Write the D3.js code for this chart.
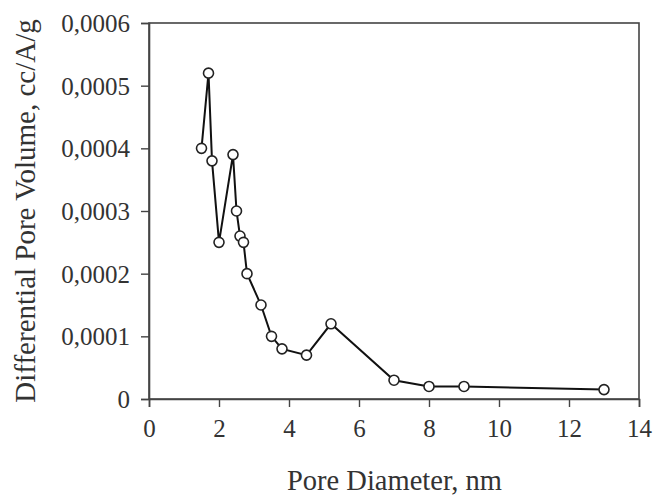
<!DOCTYPE html>
<html lang="en">
<head>
    <meta charset="UTF-8">
    <title>Pore size distribution</title>
    <style>
        html, body { margin: 0; padding: 0; background: #fff; }
        text { font-family: "Liberation Serif", "Times New Roman", serif; fill: #333; }
    </style>
</head>
<body>
<div id="chart"></div>
<script src="https://cdn.jsdelivr.net/npm/d3@7/dist/d3.min.js"></script>
<script>
    // data
    const poreDiameter = [1.5, 1.7, 1.8, 2.0, 2.4, 2.5, 2.6, 2.7, 2.8, 3.2, 3.5, 3.8, 4.5, 5.2, 7.0, 8.0, 9.0, 13.0];
    const poreVolume = [0.0004, 0.00052, 0.00038, 0.00025, 0.00039, 0.0003, 0.00026, 0.00025, 0.0002,
        0.00015, 0.0001, 0.00008, 0.00007, 0.00012, 0.00003, 0.00002, 0.00002, 0.000015];
    const xTicks = [0, 2, 4, 6, 8, 10, 12, 14];
    const yTicks = [0, 0.0001, 0.0002, 0.0003, 0.0004, 0.0005, 0.0006];

    const width = 654,
        height = 495;
    const margin = {top: 23, right: 15, bottom: 96, left: 149};
    const innerW = width - margin.left - margin.right,
        innerH = height - margin.top - margin.bottom;

    let svg = d3.select("#chart")
        .append("svg")
        .attr("width", width)
        .attr("height", height);

    let g = svg.append("g")
        .attr("transform", `translate(${margin.left}, ${margin.top})`);

    var x = d3.scaleLinear()
        .domain([0, 14])
        .range([0, innerW]);

    var y = d3.scaleLinear()
        .domain([0, 0.0006])
        .range([innerH, 0]);

    // comma decimal, as in the picture
    var fmtY = d => d === 0 ? "0" : d3.format(".4f")(d).replace(".", ",");

    var xAxis = d3.axisBottom(x)
        .tickValues(xTicks)
        .tickFormat(d3.format("d"))
        .tickSize(8)
        .tickPadding(11);

    var yAxis = d3.axisLeft(y)
        .tickValues(yTicks)
        .tickFormat(fmtY)
        .tickSize(8)
        .tickPadding(11);

    // frame
    g.append("rect")
        .attr("width", innerW)
        .attr("height", innerH)
        .attr("fill", "none")
        .attr("stroke", "#444")
        .attr("stroke-width", 1.6);

    let gx = g.append("g")
        .attr("transform", `translate(0, ${innerH})`)
        .call(xAxis);

    let gy = g.append("g")
        .call(yAxis);

    [gx, gy].forEach(a => {
        a.select(".domain").attr("stroke", "#444").attr("stroke-width", 1.6);
        a.selectAll(".tick line").attr("stroke", "#444").attr("stroke-width", 1.4);
        a.selectAll(".tick text")
            .style("font-family", '"Liberation Serif", serif')
            .style("font-size", "25px")
            .attr("fill", "#333");
    });
    gx.selectAll(".tick text").attr("dy", "0.75em");
    gy.selectAll(".tick text").attr("dy", "0.34em");

    // axis titles
    svg.append("text")
        .attr("x", 287)
        .attr("y", 490)
        .style("font-size", "28.5px")
        .text("Pore Diameter, nm");

    svg.append("text")
        .attr("transform", `translate(35, ${margin.top + innerH / 2}) rotate(-90)`)
        .attr("text-anchor", "middle")
        .style("font-size", "29px")
        .text("Differential Pore Volume, cc/A/g");

    var pts = poreDiameter.map((d, i) => ({x: d, y: poreVolume[i]}));

    var line = d3.line()
        .x(d => x(d.x))
        .y(d => y(d.y));

    g.append("path")
        .datum(pts)
        .attr("d", line)
        .attr("fill", "none")
        .attr("stroke", "#111")
        .attr("stroke-width", 2);

    g.append("g")
        .selectAll("circle")
        .data(pts)
        .join("circle")
        .attr("cx", d => x(d.x))
        .attr("cy", d => y(d.y))
        .attr("r", 5)
        .attr("fill", "#fff")
        .attr("stroke", "#222")
        .attr("stroke-width", 1.6);
</script>
</body>
</html>
